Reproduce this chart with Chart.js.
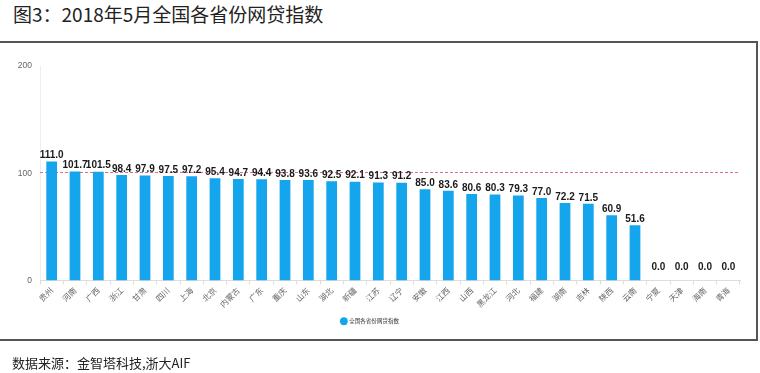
<!DOCTYPE html>
<html>
<head>
<meta charset="utf-8">
<script src="https://cdn.jsdelivr.net/npm/chart.js@4"></script>
<style>
  html, body { margin:0; padding:0; background:#fff; }
  #wrap { position:relative; width:760px; height:373px; overflow:hidden; background:#fff; }
  #title { position:absolute; left:13px; top:0px; font:19px "Noto Sans CJK SC", sans-serif; color:#222; white-space:nowrap; }
  #source { position:absolute; left:12px; top:353px; font:13px "Noto Sans CJK SC", sans-serif; color:#222; white-space:nowrap; }
  .ln { position:absolute; background:#555; }
  canvas { position:absolute; left:0; top:0; }
</style>
</head>
<body>
<div id="wrap">
  <div id="title">图3：2018年5月全国各省份网贷指数</div>
  <canvas id="c" width="760" height="373"></canvas>
  <div class="ln" style="left:0;top:41px;width:758px;height:1.5px;"></div>
  <div class="ln" style="left:756px;top:41px;width:1.5px;height:300px;"></div>
  <div class="ln" style="left:0;top:339px;width:758px;height:1.5px;"></div>
  <div id="source">数据来源：金智塔科技,浙大AIF</div>
</div>
<script>
const provinces = ['贵州','河南','广西','浙江','甘肃','四川','上海','北京','内蒙古','广东','重庆','山东','湖北','新疆','江苏','辽宁','安徽','江西','山西','黑龙江','河北','福建','湖南','吉林','陕西','云南','宁夏','天津','海南','青海'];
const indexValues = [111.0,101.7,101.5,98.4,97.9,97.5,97.2,95.4,94.7,94.4,93.8,93.6,92.5,92.1,91.3,91.2,85.0,83.6,80.6,80.3,79.3,77.0,72.2,71.5,60.9,51.6,0.0,0.0,0.0,0.0];
const seriesName = '全国各省份网贷指数';
const yTicks = [0, 100, 200];
const referenceLine = [101];

const valueLabels = {
  id: 'valueLabels',
  afterDatasetsDraw(chart) {
    const ctx = chart.ctx;
    const meta = chart.getDatasetMeta(0);
    ctx.save();
    ctx.font = 'bold 10px "Liberation Sans", Arial, sans-serif';
    ctx.fillStyle = '#1a1a1a';
    ctx.textAlign = 'center';
    ctx.textBaseline = 'bottom';
    meta.data.forEach((bar, i) => {
      const v = chart.data.datasets[0].data[i];
      const y = Math.min(bar.y, bar.base - 7) - 1;
      ctx.fillText(v.toFixed(1), bar.x, y);
    });
    ctx.restore();
  }
};

const refLine = {
  id: 'refLine',
  beforeDatasetsDraw(chart) {
    const ctx = chart.ctx;
    const ys = chart.scales.y;
    const area = chart.chartArea;
    ctx.save();
    ctx.strokeStyle = '#e0707e';
    ctx.lineWidth = 1;
    ctx.setLineDash([3, 2]);
    referenceLine.forEach(v => {
      const y = Math.round(ys.getPixelForValue(v)) + 0.5;
      ctx.beginPath();
      ctx.moveTo(area.left, y);
      ctx.lineTo(area.right - 2, y);
      ctx.stroke();
    });
    ctx.restore();
  }
};

new Chart(document.getElementById('c'), {
  type: 'bar',
  data: {
    labels: provinces,
    datasets: [{
      label: seriesName,
      data: indexValues,
      backgroundColor: '#14a5ec',
      borderWidth: 0,
      barPercentage: 0.46,
      categoryPercentage: 1.0
    }]
  },
  options: {
    responsive: false,
    animation: false,
    devicePixelRatio: 1,
    layout: { padding: { left: 0, right: 20, top: 66, bottom: 39 } },
    scales: {
      y: {
        min: 0, max: 200,
        afterBuildTicks: s => { s.ticks = yTicks.map(v => ({ value: v })); },
        afterFit: s => { s.width = 40; },
        grid: { display: false, drawTicks: false },
        border: { display: true, color: '#eeeeee' },
        ticks: { padding: 8, color: '#666', font: { size: 8.5, family: '"Liberation Sans", Arial, sans-serif' } }
      },
      x: {
        afterFit: s => { s.height = 30; },
        grid: { display: true, drawOnChartArea: false, tickLength: 4, color: '#dddddd', offset: true },
        border: { display: true, color: '#dddddd' },
        ticks: { minRotation: 45, maxRotation: 45, padding: 1, color: '#666', autoSkip: false,
                 font: { size: 8, family: '"Noto Sans CJK SC", sans-serif' } }
      }
    },
    plugins: {
      legend: {
        display: true,
        position: 'bottom',
        labels: {
          usePointStyle: true, pointStyle: 'circle', boxWidth: 7, boxHeight: 7, padding: 8,
          color: '#333', font: { size: 5.5, family: '"Noto Sans CJK SC", sans-serif' }
        }
      },
      tooltip: { enabled: false }
    }
  },
  plugins: [refLine, valueLabels]
});
</script>
</body>
</html>
